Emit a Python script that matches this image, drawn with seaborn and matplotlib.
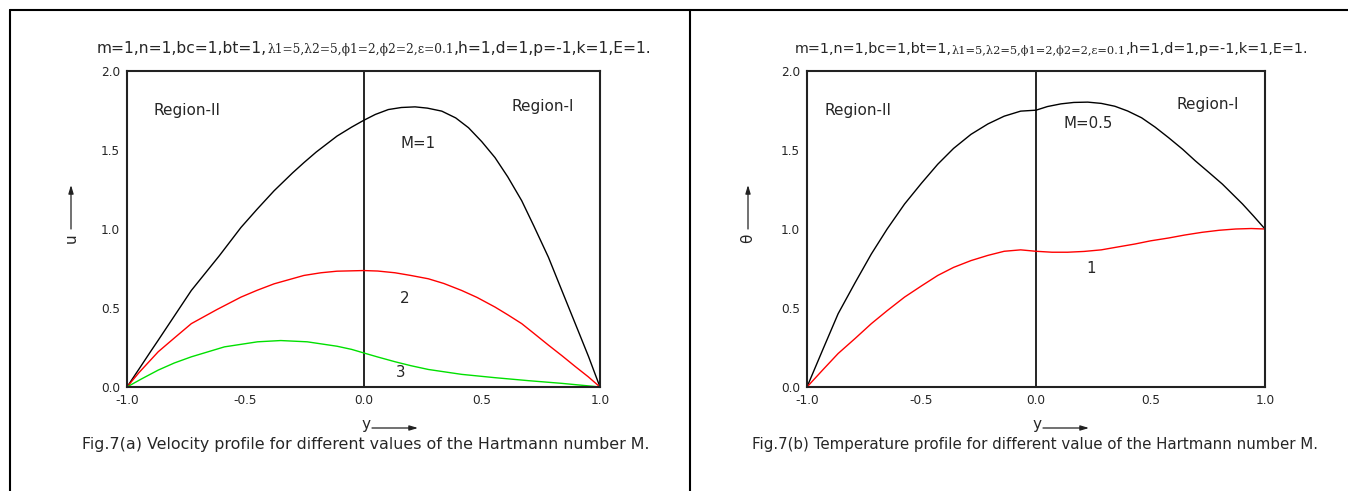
import matplotlib
matplotlib.use("Agg")
import matplotlib.pyplot as plt
from matplotlib.lines import Line2D
from matplotlib.ticker import MultipleLocator, FormatStrFormatter
import seaborn as sns
import pandas as pd

# ---- velocity profile, panel (a) ----
vel_y_m1 = [-1.0, -0.95, -0.9, -0.868, -0.8, -0.728, -0.7, -0.61, -0.518, -0.45,
            -0.378, -0.3, -0.252, -0.2, -0.112, -0.05, 0.0, 0.05, 0.105, 0.16,
            0.218, 0.27, 0.331, 0.39, 0.444, 0.5, 0.556, 0.61, 0.669, 0.72,
            0.782, 0.82, 0.867, 0.91, 0.952, 0.975, 1.0]
vel_u_m1 = [0.0, 0.112, 0.225, 0.296, 0.449, 0.611, 0.663, 0.830, 1.010, 1.125,
            1.242, 1.355, 1.420, 1.487, 1.588, 1.645, 1.687, 1.725, 1.756, 1.769,
            1.773, 1.765, 1.746, 1.703, 1.641, 1.553, 1.452, 1.330, 1.179, 1.020,
            0.821, 0.680, 0.506, 0.347, 0.191, 0.099, 0.0]

vel_y_m2 = [-1.0, -0.95, -0.868, -0.8, -0.728, -0.62, -0.518, -0.45, -0.378, -0.252,
            -0.18, -0.112, 0.0, 0.06, 0.133, 0.2, 0.274, 0.34, 0.415, 0.48,
            0.556, 0.61, 0.669, 0.72, 0.782, 0.84, 0.895, 0.95, 1.0]
vel_u_m2 = [0.0, 0.090, 0.223, 0.310, 0.401, 0.490, 0.569, 0.612, 0.653, 0.706,
            0.723, 0.733, 0.737, 0.734, 0.723, 0.706, 0.685, 0.655, 0.611, 0.567,
            0.506, 0.457, 0.401, 0.340, 0.265, 0.197, 0.130, 0.065, 0.0]

vel_y_m3 = [-1.0, -0.94, -0.868, -0.8, -0.728, -0.588, -0.448, -0.35, -0.238, -0.112,
            -0.05, 0.0, 0.06, 0.133, 0.2, 0.274, 0.415, 0.556, 0.698, 0.839, 1.0]
vel_u_m3 = [0.0, 0.050, 0.107, 0.152, 0.191, 0.254, 0.286, 0.294, 0.286, 0.258,
            0.238, 0.216, 0.190, 0.160, 0.135, 0.111, 0.080, 0.059, 0.040, 0.023, 0.0]

# ---- temperature profile, panel (b) ----
tmp_y_m05 = [-1.0, -0.93, -0.864, -0.79, -0.719, -0.65, -0.574, -0.5, -0.429, -0.36,
             -0.284, -0.21, -0.139, -0.067, 0.0, 0.05, 0.109, 0.165, 0.226, 0.285,
             0.344, 0.4, 0.461, 0.52, 0.579, 0.64, 0.696, 0.755, 0.814, 0.902,
             0.95, 1.0]
tmp_t_m05 = [0.0, 0.240, 0.464, 0.660, 0.842, 1.000, 1.158, 1.290, 1.410, 1.510,
             1.599, 1.665, 1.714, 1.746, 1.752, 1.775, 1.792, 1.801, 1.803, 1.795,
             1.777, 1.747, 1.704, 1.645, 1.578, 1.505, 1.431, 1.358, 1.284, 1.158,
             1.082, 1.0]

tmp_y_m1 = [-1.0, -0.93, -0.864, -0.79, -0.719, -0.65, -0.574, -0.5, -0.429, -0.36,
            -0.284, -0.21, -0.139, -0.067, 0.0, 0.07, 0.138, 0.21, 0.285, 0.36,
            0.432, 0.5, 0.579, 0.65, 0.725, 0.8, 0.872, 0.94, 1.0]
tmp_t_m1 = [0.0, 0.110, 0.212, 0.307, 0.401, 0.483, 0.569, 0.640, 0.706, 0.757,
            0.800, 0.833, 0.859, 0.868, 0.859, 0.853, 0.853, 0.858, 0.868, 0.887,
            0.905, 0.925, 0.943, 0.962, 0.979, 0.992, 1.000, 1.003, 1.0]

x_ticks = [-1.0, -0.5, 0.0, 0.5, 1.0]
y_ticks = [0.0, 0.5, 1.0, 1.5, 2.0]

sns.set_style("white")
SANS = ["DejaVu Sans"]
SERIF = ["DejaVu Serif"]
plt.rcParams["font.family"] = SANS
plt.rcParams["axes.unicode_minus"] = False

W, H = 1348, 491
fig = plt.figure(figsize=(W / 100, H / 100), dpi=100)


def px_box(left, top, right, bottom):
    return [left / W, 1 - bottom / H, (right - left) / W, (bottom - top) / H]


ax_a = fig.add_axes(px_box(127, 71, 600, 387))
ax_b = fig.add_axes(px_box(807, 71, 1265, 387))


def style_axes(ax):
    ax.set_xlim(-1, 1)
    ax.set_ylim(0, 2)
    ax.set_xticks(x_ticks)
    ax.set_yticks(y_ticks)
    ax.xaxis.set_minor_locator(MultipleLocator(0.25))
    ax.yaxis.set_minor_locator(MultipleLocator(0.25))
    ax.xaxis.set_major_formatter(FormatStrFormatter("%.1f"))
    ax.yaxis.set_major_formatter(FormatStrFormatter("%.1f"))
    ax.tick_params(which="both", direction="in", top=False, right=False,
                   color="#222222", width=1.2, labelsize=8.7, pad=5)
    ax.tick_params(which="major", length=5)
    ax.tick_params(which="minor", length=2.5)
    for sp in ax.spines.values():
        sp.set_color("#222222")
        sp.set_linewidth(1.5)
    ax.axvline(0, color="black", lw=1.2, zorder=1)
    ax.set_xlabel("")
    ax.set_ylabel("")


df_a = pd.concat([
    pd.DataFrame({"y": vel_y_m1, "u": vel_u_m1, "M": "1"}),
    pd.DataFrame({"y": vel_y_m2, "u": vel_u_m2, "M": "2"}),
    pd.DataFrame({"y": vel_y_m3, "u": vel_u_m3, "M": "3"}),
])
sns.lineplot(data=df_a, x="y", y="u", hue="M",
             palette={"1": "black", "2": "#ff0000", "3": "#00e000"},
             lw=1.0, legend=False, ax=ax_a)

df_b = pd.concat([
    pd.DataFrame({"y": tmp_y_m05, "t": tmp_t_m05, "M": "0.5"}),
    pd.DataFrame({"y": tmp_y_m1, "t": tmp_t_m1, "M": "1"}),
])
sns.lineplot(data=df_b, x="y", y="t", hue="M",
             palette={"0.5": "black", "1": "#ff0000"},
             lw=1.0, legend=False, ax=ax_b)

style_axes(ax_a)
style_axes(ax_b)

region = dict(fontsize=11, ha="center", va="center")
curve = dict(fontsize=10.8, ha="center", va="center")
ax_a.text(-0.746, 1.747, "Region-II", **region)
ax_a.text(0.759, 1.778, "Region-I", **region)
ax_a.text(0.230, 1.544, "M=1", **curve)
ax_a.text(0.175, 0.563, "2", **curve)
ax_a.text(0.159, 0.089, "3", **curve)

ax_b.text(-0.777, 1.747, "Region-II", **region)
ax_b.text(0.751, 1.785, "Region-I", **region)
ax_b.text(0.227, 1.665, "M=0.5", **curve)
ax_b.text(0.240, 0.753, "1", **curve)


def param_line(ax, x_px, y_px, size):
    t1 = ax.annotate("m=1,n=1,bc=1,bt=1,", xy=(x_px, H - y_px),
                     xycoords="figure pixels", fontsize=size,
                     ha="left", va="baseline", family=SANS,
                     annotation_clip=False)
    t2 = ax.annotate("λ1=5,λ2=5,ϕ1=2,ϕ2=2,ε=0.1", xy=(1, 0), xycoords=t1,
                     fontsize=size * 0.79, ha="left", va="bottom", family=SERIF,
                     annotation_clip=False)
    ax.annotate(",h=1,d=1,p=-1,k=1,E=1.", xy=(1, 0), xycoords=t2,
                fontsize=size, ha="left", va="bottom", family=SANS,
                annotation_clip=False)


param_line(ax_a, 97, 53, 11.2)
param_line(ax_b, 795, 53, 10.4)

arrow = dict(arrowstyle="-|>,head_length=0.5,head_width=0.15",
             color="#222222", lw=0.9, shrinkA=0, shrinkB=0)


def axis_labels(ax, ylabel, ylab_x, xlab_x, caption, cap_x, cap_size):
    # vertical label with an arrow pointing up
    ax.annotate(ylabel, xy=(ylab_x, H - 238), xycoords="figure pixels",
                rotation=90, fontsize=11, ha="center", va="center",
                annotation_clip=False)
    ax.annotate("", xy=(ylab_x, H - 185), xytext=(ylab_x, H - 229),
                xycoords="figure pixels", textcoords="figure pixels",
                arrowprops=arrow, annotation_clip=False)
    # horizontal label with an arrow pointing right
    ax.annotate("y", xy=(xlab_x, H - 424), xycoords="figure pixels",
                fontsize=11, ha="center", va="center", annotation_clip=False)
    ax.annotate("", xy=(xlab_x + 52, H - 428), xytext=(xlab_x + 6, H - 428),
                xycoords="figure pixels", textcoords="figure pixels",
                arrowprops=arrow, annotation_clip=False)
    ax.annotate(caption, xy=(cap_x, H - 445), xycoords="figure pixels",
                fontsize=cap_size, ha="center", va="center", annotation_clip=False)


axis_labels(ax_a, "u", 71, 366,
            "Fig.7(a) Velocity profile for different values of the Hartmann number M.",
            366, 11.4)
axis_labels(ax_b, "θ", 748, 1037,
            "Fig.7(b) Temperature profile for different value of the Hartmann number M.",
            1035, 10.8)

# page frame around the two panels
frame = dict(color="black", lw=1.5, transform=fig.transFigure)
fig.add_artist(Line2D([10 / W, 1.0], [1 - 10 / H, 1 - 10 / H], **frame))
fig.add_artist(Line2D([10 / W, 10 / W], [0, 1 - 10 / H], **frame))
fig.add_artist(Line2D([690 / W, 690 / W], [0, 1 - 10 / H], **frame))

fig.savefig("out.png", dpi=100)
